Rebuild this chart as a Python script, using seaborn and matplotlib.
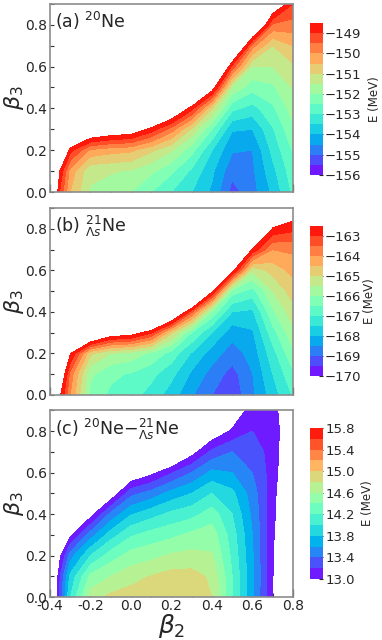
import numpy as np
import matplotlib
matplotlib.use("Agg")
import matplotlib.pyplot as plt
from matplotlib.ticker import MultipleLocator
import seaborn as sns

# deformation grid: columns = beta2, rows = beta3
beta2 = [-0.4, -0.35, -0.3, -0.2, -0.1, 0.0, 0.1, 0.2, 0.3, 0.4, 0.5, 0.6, 0.7, 0.8]
beta3 = [0.0, 0.1, 0.2, 0.3, 0.4, 0.5, 0.6, 0.7, 0.8, 0.9]

# (a) 20Ne energy surface (MeV), one row per beta3
e_ne20 = [
    [-146.5, -149.1, -150.5, -151.55, -151.8, -152.0, -152.5, -153.0, -153.5, -154.1, -155.2, -154.7, -153.9, -152.9],
    [-146.0, -148.6, -150.2, -151.4, -151.45, -151.55, -151.9, -152.4, -153.1, -153.9, -154.85, -154.6, -153.65, -152.7],
    [-145.0, -146.0, -148.8, -150.1, -150.3, -150.4, -150.9, -151.45, -152.3, -153.5, -154.45, -154.5, -153.35, -152.45],
    [-144.0, -145.0, -146.0, -147.3, -147.7, -147.9, -148.7, -149.75, -151.1, -152.5, -153.95, -154.0, -153.05, -152.1],
    [-143.0, -144.0, -145.0, -145.5, -146.0, -146.0, -146.0, -147.15, -148.8, -151.0, -152.85, -153.2, -152.6, -151.75],
    [-142.0, -143.0, -144.0, -144.5, -145.0, -145.0, -145.0, -145.0, -145.5, -148.0, -151.6, -152.3, -152.1, -151.45],
    [-141.0, -142.0, -143.0, -143.5, -144.0, -144.0, -144.0, -144.0, -144.0, -145.0, -149.2, -151.5, -151.5, -151.1],
    [-140.0, -141.0, -142.0, -142.5, -143.0, -143.0, -143.0, -143.0, -143.0, -143.5, -146.0, -149.8, -151.0, -150.5],
    [-139.0, -140.0, -141.0, -141.5, -142.0, -142.0, -142.0, -142.0, -142.0, -142.5, -144.0, -146.5, -149.6, -149.7],
    [-138.0, -139.0, -140.0, -140.5, -141.0, -141.0, -141.0, -141.0, -141.0, -141.5, -143.0, -145.0, -147.5, -149.0],
]

# (b) 21-Lambda_s Ne energy surface (MeV)
e_ne21 = [
    [-160.9, -162.4, -164.0, -166.15, -166.6, -166.8, -167.2, -167.75, -168.45, -169.0, -169.35, -168.6, -167.75, -166.95],
    [-160.5, -161.5, -163.7, -165.9, -166.4, -166.55, -166.85, -167.35, -168.1, -168.7, -169.2, -168.52, -167.5, -166.6],
    [-160.0, -160.5, -162.4, -164.9, -165.5, -165.7, -166.1, -166.7, -167.55, -168.25, -168.75, -168.3, -167.2, -166.1],
    [-159.5, -160.0, -159.0, -160.5, -161.8, -162.0, -162.9, -164.9, -166.5, -167.5, -168.3, -168.07, -166.7, -165.65],
    [-159.0, -159.5, -158.5, -159.5, -160.0, -160.0, -159.0, -160.5, -163.4, -166.1, -167.5, -167.6, -166.1, -165.2],
    [-158.5, -159.0, -158.0, -159.0, -159.5, -159.5, -158.5, -158.5, -158.0, -162.3, -166.25, -166.7, -165.5, -164.75],
    [-158.0, -158.5, -157.5, -158.5, -159.0, -159.0, -158.0, -158.0, -157.5, -159.0, -162.2, -165.4, -164.8, -164.35],
    [-157.5, -158.0, -157.0, -158.0, -158.5, -158.5, -157.5, -157.5, -157.0, -158.0, -159.0, -162.6, -164.0, -163.9],
    [-157.0, -157.5, -156.5, -157.5, -158.0, -158.0, -157.0, -157.0, -156.5, -157.5, -158.0, -159.0, -162.6, -162.85],
    [-156.5, -157.0, -156.0, -157.0, -157.5, -157.5, -156.5, -156.5, -156.0, -157.0, -157.5, -158.0, -160.0, -161.9],
]

# (c) difference 20Ne - 21Ne (MeV)
e_diff = [
    [12.4, 13.25, 14.0, 14.7, 14.85, 14.9, 14.95, 14.97, 14.98, 14.8, 14.2, 13.64, 12.98, 12.0],
    [12.3, 13.2, 13.85, 14.45, 14.6, 14.72, 14.81, 14.88, 14.88, 14.76, 14.2, 13.64, 13.01, 12.3],
    [12.2, 12.95, 13.5, 14.0, 14.3, 14.48, 14.54, 14.63, 14.66, 14.62, 14.15, 13.62, 13.02, 12.4],
    [12.0, 12.5, 12.95, 13.5, 13.9, 14.17, 14.28, 14.35, 14.45, 14.5, 14.1, 13.6, 13.04, 12.5],
    [11.8, 12.2, 12.5, 12.9, 13.45, 13.78, 13.92, 14.05, 14.13, 14.3, 14.0, 13.55, 13.06, 12.6],
    [11.6, 12.0, 12.2, 12.5, 12.8, 13.33, 13.48, 13.67, 13.8, 14.0, 13.85, 13.5, 13.08, 12.6],
    [11.4, 11.8, 12.0, 12.2, 12.4, 12.75, 12.93, 13.18, 13.4, 13.65, 13.6, 13.4, 13.1, 12.7],
    [11.2, 11.6, 11.8, 12.0, 12.1, 12.3, 12.4, 12.5, 12.9, 13.25, 13.4, 13.3, 13.12, 12.7],
    [11.0, 11.4, 11.6, 11.8, 11.9, 12.0, 12.1, 12.2, 12.4, 12.8, 13.03, 13.2, 13.15, 12.7],
    [10.8, 11.2, 11.4, 11.6, 11.7, 11.8, 11.9, 12.0, 12.2, 12.5, 12.8, 13.1, 13.1, 12.7],
]

titles = [r"(a) $^{20}$Ne", r"(b) ${}^{21}_{\Lambda s}$Ne", r"(c) $^{20}$Ne$-{}^{21}_{\Lambda s}$Ne"]

levels_a = np.arange(-156.0, -148.4, 0.5)
levels_b = np.arange(-170.0, -162.4, 0.5)
levels_c = np.round(np.arange(13.0, 15.81, 0.2), 1)
cbar_ticks_a = [-156, -155, -154, -153, -152, -151, -150, -149]
cbar_ticks_b = [-170, -169, -168, -167, -166, -165, -164, -163]
cbar_ticks_c = [13.0, 13.4, 13.8, 14.2, 14.6, 15.0, 15.4, 15.8]

x_ticks = [-0.4, -0.2, 0.0, 0.2, 0.4, 0.6, 0.8]
x_tick_labels = ["-0.4", "-0.2", "0.0", "0.2", "0.4", "0.6", "0.8"]
y_ticks = [0.0, 0.2, 0.4, 0.6, 0.8]

sns.set_style("ticks")
plt.rcParams["font.family"] = ["DejaVu Sans"]
plt.rcParams["mathtext.fontset"] = "dejavusans"

cmap = sns.color_palette("rainbow", as_cmap=True)

fig = plt.figure(figsize=(3.82, 6.4), dpi=100)

# axes boxes (figure fraction) for panels and colorbars
ax_boxes = [
    [0.1309, 0.700, 0.636, 0.294],
    [0.1309, 0.383, 0.636, 0.292],
    [0.1309, 0.067, 0.636, 0.292],
]
cb_boxes = [
    [0.8115, 0.7266, 0.034, 0.2375],
    [0.8115, 0.4125, 0.034, 0.2340],
    [0.8115, 0.0953, 0.034, 0.2360],
]

data = [e_ne20, e_ne21, e_diff]
levels = [levels_a, levels_b, levels_c]
cticks = [cbar_ticks_a, cbar_ticks_b, cbar_ticks_c]
label_x = [4.45, 4.1, 3.9]

B2, B3 = np.meshgrid(beta2, beta3)

for k in range(3):
    ax = fig.add_axes(ax_boxes[k])
    cs = ax.contourf(B2, B3, np.array(data[k]), levels=levels[k], cmap=cmap)

    ax.set_xlim(-0.4, 0.8)
    ax.set_ylim(0.0, 0.9)
    ax.set_xticks(x_ticks)
    ax.xaxis.set_minor_locator(MultipleLocator(0.1))
    ax.set_yticks(y_ticks)
    ax.set_yticklabels([f"{v:.1f}" for v in y_ticks])
    ax.yaxis.set_minor_locator(MultipleLocator(0.1))
    ax.tick_params(axis="x", which="major", direction="in", length=6, width=0.9,
                   color="#333333", labelsize=10, pad=1.5)
    ax.tick_params(axis="x", which="minor", direction="in", length=3, width=0.8,
                   color="#333333")
    ax.tick_params(axis="y", which="both", direction="in", length=3, width=0.8,
                   color="#333333", labelsize=10, pad=2)
    for sp in ax.spines.values():
        sp.set_color("#8c8c8c")
        sp.set_linewidth(1.2)

    if k < 2:
        ax.tick_params(axis="x", labelbottom=False)
    else:
        ax.set_xticklabels(x_tick_labels)
        ax.set_xlabel(r"$\beta_2$", fontsize=18, labelpad=-1)

    ax.set_ylabel(r"$\beta_3$", fontsize=16)
    ax.yaxis.set_label_coords(-0.1, 0.5)
    ax.text(0.02, 0.87, titles[k], transform=ax.transAxes, fontsize=12.5,
            ha="left", va="baseline")

    cax = fig.add_axes(cb_boxes[k])
    cb = fig.colorbar(cs, cax=cax, ticks=cticks[k])
    cb.outline.set_visible(False)
    cb.ax.tick_params(direction="in", length=3, width=0.8, labelsize=9.5, pad=1.5)
    cb.set_label("E (MeV)", fontsize=8.5)
    cb.ax.yaxis.set_label_coords(label_x[k], 0.5)

fig.savefig("out.png", dpi=100)
